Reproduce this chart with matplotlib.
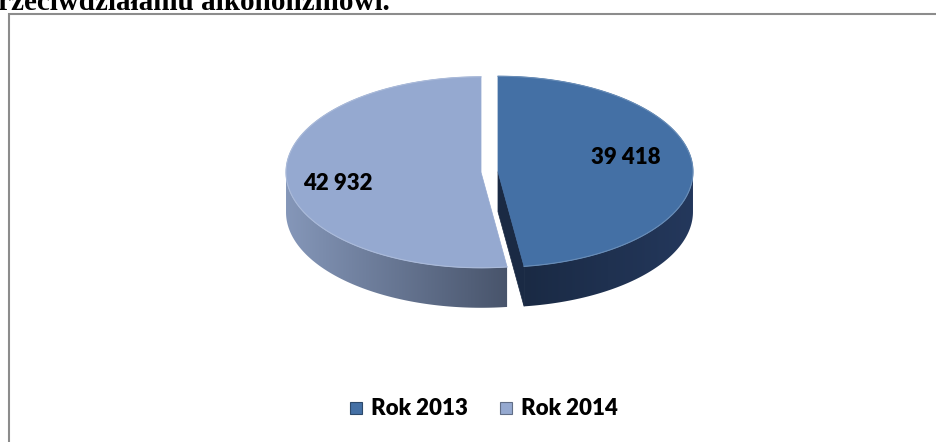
import numpy as np
import matplotlib.pyplot as plt
from matplotlib.patches import Polygon, Rectangle
from matplotlib.colors import to_rgb

# dane
years = ["Rok 2013", "Rok 2014"]
values = [39418, 42932]
labels = ["39 418", "42 932"]
top_colors = ["#4470A5", "#95A9D0"]
wall_from = ["#1A2A44", "#8597B9"]   # kolor ściany po lewej
wall_to = ["#24385C", "#48546B"]     # kolor ściany po prawej
title = "przeciwdziałaniu alkoholizmowi."

W, H = 936, 442
fig = plt.figure(figsize=(W / 100, H / 100), dpi=100)
ax = fig.add_axes([0, 0, 1, 1])
ax.set_xlim(0, W)
ax.set_ylim(H, 0)
ax.axis('off')

# ramka wykresu (widoczna tylko lewa i górna krawędź)
ax.plot([8.5, 8.5, W + 2], [H + 2, 13.5, 13.5], color='#8C8C8C', lw=1.5,
        solid_joinstyle='miter', zorder=1)

# tytuł ucięty od góry, jak w oryginale
ax.text(390, 10.5, title, ha='right', va='baseline', fontsize=21,
        fontweight='bold', family='Liberation Serif', color='black',
        clip_on=False, zorder=2)

# geometria pseudo-3D
cx, cy = 489.5, 172.0
a, b = 195.0, 95.5
depth = 40.0
explode = 8.5


def pt(x0, y0, th):
    return np.array([x0 + a * np.cos(th), y0 - b * np.sin(th)])


def gradient_fill(poly, c1, c2, x0, x1, z):
    patch = Polygon(poly, closed=True, fc='none', ec='none')
    ax.add_patch(patch)
    t = np.linspace(0, 1, 256)
    c1, c2 = np.array(to_rgb(c1)), np.array(to_rgb(c2))
    img = (c1[None, :] + (c2 - c1)[None, :] * t[:, None])[None, :, :]
    ys = poly[:, 1]
    im = ax.imshow(img, extent=(x0, x1, ys.max() + 1, ys.min() - 1),
                   aspect='auto', interpolation='bilinear', zorder=z)
    im.set_clip_path(patch)


total = sum(values)
start = np.pi / 2
slices = []
for i, v in enumerate(values):
    sweep = 2 * np.pi * v / total
    th1, th2 = start, start - sweep
    mid = (th1 + th2) / 2
    ox = cx + explode * np.cos(mid)
    oy = cy - explode * 0.5 * np.sin(mid)
    slices.append((th1, th2, ox, oy))
    start = th2

# ściany boczne
for i, (th1, th2, ox, oy) in enumerate(slices):
    # ściany promieniowe (tylko zwrócone do widza)
    for th_edge, normal in ((th1, th1 + np.pi / 2), (th2, th2 - np.pi / 2)):
        if np.sin(normal) < -0.02:
            p = pt(ox, oy, th_edge)
            quad = [(ox, oy), tuple(p), (p[0], p[1] + depth), (ox, oy + depth)]
            ax.add_patch(Polygon(quad, closed=True, fc=wall_from[i],
                                 ec=wall_from[i], lw=0.5, zorder=3))
    # zewnętrzna ściana, przednia połowa
    ths = np.linspace(th1, th2, 600)
    front = ths[np.sin(ths) < 0]
    if len(front) < 2:
        continue
    upper = np.array([pt(ox, oy, t) for t in front])
    lower = upper[::-1] + [0, depth]
    poly = np.vstack([upper, lower])
    xs = poly[:, 0]
    gradient_fill(poly, wall_from[i], wall_to[i], xs.min(), xs.max(), 3)

# powierzchnie górne
for i, (th1, th2, ox, oy) in enumerate(slices):
    ths = np.linspace(th1, th2, 300)
    arc = np.array([pt(ox, oy, t) for t in ths])
    poly = np.vstack([[ox, oy], arc])
    ax.add_patch(Polygon(poly, closed=True, fc=top_colors[i],
                         ec=top_colors[i], lw=0.5, zorder=4))
    rim = tuple(np.array(to_rgb(top_colors[i])) * 0.8 + 0.2)
    ax.plot(arc[:, 0], arc[:, 1], color=rim, lw=0.8, zorder=5)

# etykiety danych
label_pos = [(626, 158), (338, 183)]
for (x, y), lab in zip(label_pos, labels):
    ax.text(x, y, lab, ha='center', va='center', fontsize=16,
            fontweight='heavy', family='Lato', color='black', zorder=6)

# legenda
leg_x = [350, 500]
for x, name, col in zip(leg_x, years, top_colors):
    edge = tuple(np.array(to_rgb(col)) * 0.65)
    ax.add_patch(Rectangle((x, 402), 12, 12, fc=col, ec=edge, lw=0.8, zorder=6))
    ax.text(x + 21, 408.5, name, ha='left', va='center', fontsize=16,
            fontweight='heavy', family='Lato', color='black', zorder=6)

fig.savefig('out.png', dpi=100)
